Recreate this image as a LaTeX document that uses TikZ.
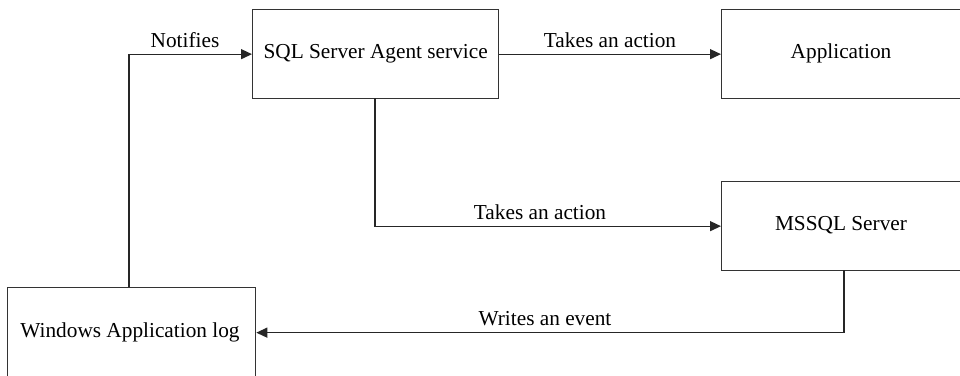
\documentclass[tikz,border=0pt]{standalone}
\usepackage{fontspec}
\setmainfont{Liberation Serif}
\usetikzlibrary{arrows.meta}
\begin{document}
\begin{tikzpicture}[x=1pt,y=-1pt,
  box/.style={draw=black!80,line width=1.3pt,rectangle,inner sep=0pt,anchor=north west},
  conn/.style={draw=black!85,line width=1.3pt,-{Triangle[length=11pt,width=10pt]}},
  lbl/.style={font=\fontsize{21.3}{25}\selectfont,inner sep=0pt,anchor=base},
  txt/.style={font=\fontsize{21.3}{25}\selectfont,inner sep=0pt}]
\useasboundingbox (0,0) rectangle (960,375);
\node[box,minimum width=246pt,minimum height=89pt] (sql) at (252,9) {};
\node[txt] at (sql.center) {SQL Server Agent service};
\node[box,minimum width=250pt,minimum height=89pt] (app) at (721,9) {};
\node[txt] at (841,53.5) {Application};
\node[box,minimum width=250pt,minimum height=89pt] (ms) at (721,181) {};
\node[txt] at (841,225.5) {MSSQL Server};
\node[box,minimum width=248pt,minimum height=90pt] (win) at (7,287) {};
\node[txt] at (130,332) {Windows Application log};
\coordinate (n1) at (129,287);
\coordinate (s1) at (375,98);
\coordinate (m1) at (844,270);
\draw[conn] (n1) |- (sql.west);
\draw[conn] (sql.east) -- (app.west);
\draw[conn] (s1) |- (ms.west);
\draw[conn] (m1) |- (win.east);
\node[lbl] at (185,47) {Notifies};
\node[lbl] at (610,47) {Takes an action};
\node[lbl] at (540,219) {Takes an action};
\node[lbl] at (545,325) {Writes an event};
\end{tikzpicture}
\end{document}
